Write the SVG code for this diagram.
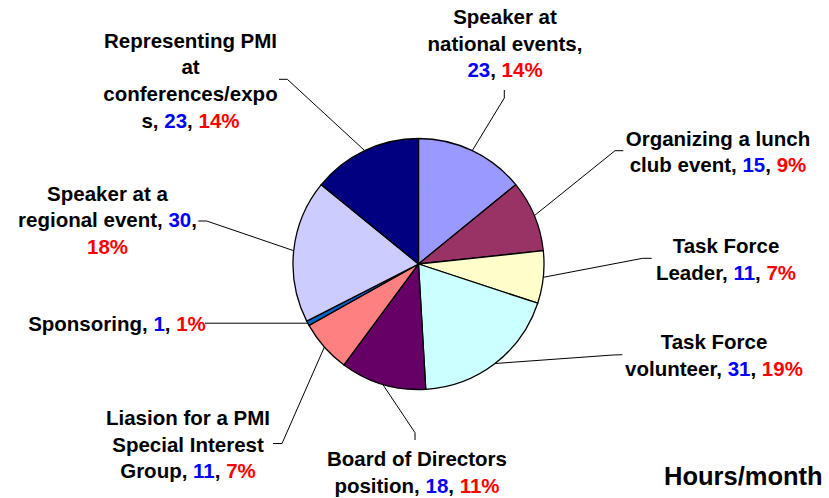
<svg xmlns="http://www.w3.org/2000/svg" width="829" height="498" viewBox="0 0 829 498">
<style>
.sl{stroke:#000;stroke-width:1.3;stroke-linejoin:round}
.ld{fill:none;stroke:#000;stroke-width:1}
text{font-family:"Liberation Sans",Arial,sans-serif;font-weight:bold;font-size:20.5px;fill:#000;text-anchor:middle}
.b{fill:#0000FF}
.r{fill:#FF0000}
</style>
<rect width="829" height="498" fill="#fff"/>
<g id="pie">
<g id="s-national"><path class="sl" fill="#9999FF" d="M418.5,264 L418.5,138.5 A125.5,125.5 0 0 1 515.75,184.68 Z"/></g>
<g id="s-lunch"><path class="sl" fill="#993366" d="M418.5,264 L515.75,184.68 A125.5,125.5 0 0 1 543.3,250.72 Z"/></g>
<g id="s-tfleader"><path class="sl" fill="#FFFFCC" d="M418.5,264 L543.3,250.72 A125.5,125.5 0 0 1 537.71,303.24 Z"/></g>
<g id="s-tfvol"><path class="sl" fill="#CCFFFF" d="M418.5,264 L537.71,303.24 A125.5,125.5 0 0 1 425.75,389.29 Z"/></g>
<g id="s-board"><path class="sl" fill="#660066" d="M418.5,264 L425.75,389.29 A125.5,125.5 0 0 1 343.96,364.97 Z"/></g>
<g id="s-liasion"><path class="sl" fill="#FF8080" d="M418.5,264 L343.96,364.97 A125.5,125.5 0 0 1 309.02,325.34 Z"/></g>
<g id="s-sponsor"><path class="sl" fill="#0066CC" d="M418.5,264 L309.02,325.34 A125.5,125.5 0 0 1 306.73,321.09 Z"/></g>
<g id="s-regional"><path class="sl" fill="#CCCCFF" d="M418.5,264 L306.73,321.09 A125.5,125.5 0 0 1 321.25,184.68 Z"/></g>
<g id="s-representing"><path class="sl" fill="#000080" d="M418.5,264 L321.25,184.68 A125.5,125.5 0 0 1 418.5,138.5 Z"/></g>
</g>
<g id="connectors">
<polyline class="ld" points="472.3,150.6 504.3,98 504.3,90"/>
<polyline class="ld" points="534.3,215.7 615,150.7 623.3,150.7"/>
<polyline class="ld" points="543.3,277.3 642.7,258.3 651.7,258.3"/>
<polyline class="ld" points="495,363.5 613,355 622.3,354.7"/>
<polyline class="ld" points="382.7,384.3 415,432.7 415,440"/>
<polyline class="ld" points="324.4,347 282,443.5 273,443.5"/>
<polyline class="ld" points="307.9,323.2 205,323.2"/>
<polyline class="ld" points="293.7,250.7 206.7,221 198.3,221"/>
<polyline class="ld" points="364.7,150.6 287.3,79.3 279,79.3"/>
</g>
<g id="label-representing">
<text x="190.5" y="47.5">Representing PMI</text>
<text x="190.5" y="74.2">at</text>
<text x="190.5" y="101">conferences/expo</text>
<text x="190.5" y="127.7">s, <tspan class="b">23</tspan>, <tspan class="r">14%</tspan></text>
</g>
<g id="label-national">
<text x="505" y="24">Speaker at</text>
<text x="505" y="50.7">national events,</text>
<text x="505" y="77.4"><tspan class="b">23</tspan>, <tspan class="r">14%</tspan></text>
</g>
<g id="label-lunch">
<text x="718" y="145.5">Organizing a lunch</text>
<text x="718" y="172.2">club event, <tspan class="b">15</tspan>, <tspan class="r">9%</tspan></text>
</g>
<g id="label-tfleader">
<text x="726" y="253.3">Task Force</text>
<text x="726" y="280">Leader, <tspan class="b">11</tspan>, <tspan class="r">7%</tspan></text>
</g>
<g id="label-tfvol">
<text x="714" y="348.5">Task Force</text>
<text x="714" y="375.5">volunteer, <tspan class="b">31</tspan>, <tspan class="r">19%</tspan></text>
</g>
<g id="label-board">
<text x="417" y="466">Board of Directors</text>
<text x="417" y="492.7">position, <tspan class="b">18</tspan>, <tspan class="r">11%</tspan></text>
</g>
<g id="label-liasion">
<text x="188" y="425">Liasion for a PMI</text>
<text x="188" y="451.7">Special Interest</text>
<text x="188" y="478.4">Group, <tspan class="b">11</tspan>, <tspan class="r">7%</tspan></text>
</g>
<g id="label-sponsor">
<text x="117" y="330.5">Sponsoring, <tspan class="b">1</tspan>, <tspan class="r">1%</tspan></text>
</g>
<g id="label-regional">
<text x="107.5" y="200.5">Speaker at a</text>
<text x="107.5" y="227.2">regional event, <tspan class="b">30</tspan>,</text>
<text x="107.5" y="254" class="r">18%</text>
</g>
<g id="title">
<text x="664" y="485" style="text-anchor:start;font-size:25.5px">Hours/month</text>
</g>
</svg>
